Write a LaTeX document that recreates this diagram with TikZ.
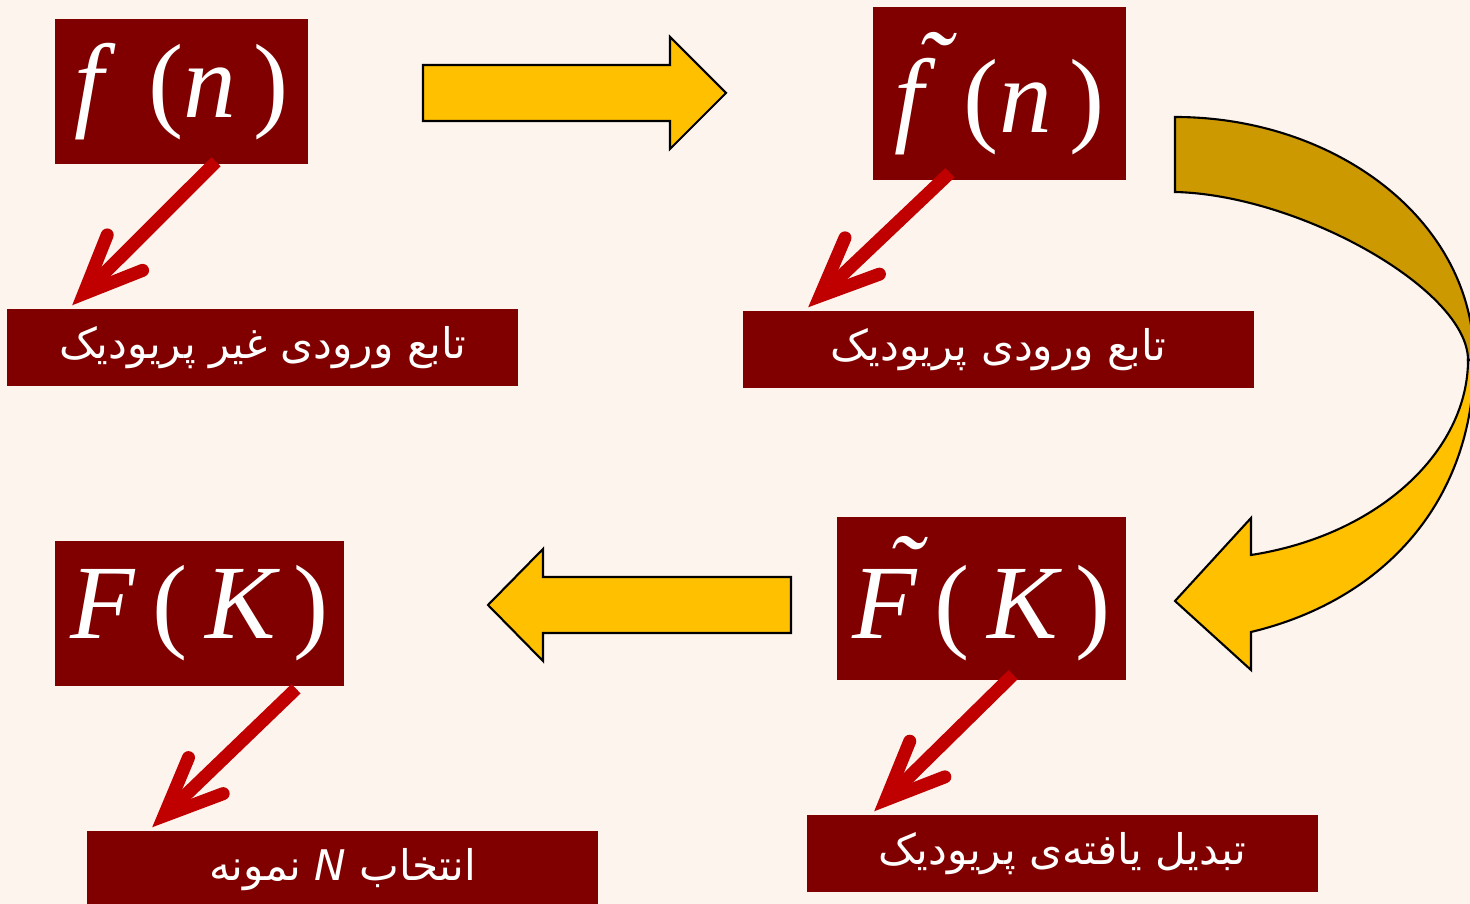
\documentclass[tikz,border=0pt]{standalone}
\usepackage{fontspec}
\usetikzlibrary{arrows.meta}
\newfontfamily\timesfont{Liberation Serif}
\newfontfamily\arabicfont[Script=Arabic]{DejaVu Sans}
\TeXXeTstate=1
\definecolor{paper}{RGB}{253,244,238}
\definecolor{boxred}{RGB}{128,0,0}
\definecolor{tipred}{RGB}{192,0,0}
\definecolor{gold}{RGB}{255,192,0}
\definecolor{darkgold}{RGB}{204,153,0}
% tilde placed over a letter
\newcommand{\wavy}[3]{\makebox[0pt][l]{\hspace{#1}\raisebox{#2}{\char"02DC}}#3}

\begin{document}
\begin{tikzpicture}[x=0.01cm, y=-0.01cm,
  mathbox/.style={fill=boxred, text=white, inner sep=0pt, font=\timesfont\fontsize{30}{34}\selectfont},
  labelbox/.style={fill=boxred, text=white, inner sep=0pt, minimum width=5.11cm, minimum height=0.77cm, font=\arabicfont\fontsize{12}{14}\selectfont},
  redarrow/.style={draw=tipred, line width=3.7pt,
    -{Straight Barb[length=0.58cm, width=0.5cm, line cap=round, line join=miter]}},
  blockarrow/.style={draw=black, line width=0.6pt, line join=miter}]

% Background
\fill[paper] (0,0) rectangle (1470,904);
\useasboundingbox (0,0) rectangle (1470,904);

% Function boxes
\node[mathbox, minimum width=2.53cm, minimum height=1.45cm] (fn) at (181.5,91.5)
  {\itshape f\hspace{0.42em}\upshape(\itshape n\,\upshape)};
\node[mathbox, minimum width=2.53cm, minimum height=1.73cm] (fpn) at (999.5,93.5)
  {\itshape\wavy{0.2em}{0.27em}{f}\hspace{0.38em}\upshape(\itshape n\,\upshape)};
\node[mathbox, minimum width=2.89cm, minimum height=1.63cm] (Fpk) at (981.5,598.5)
  {\itshape\wavy{0.32em}{0.3em}{F}\,\upshape(\,\itshape K\,\upshape)};
\node[mathbox, minimum width=2.89cm, minimum height=1.45cm] (Fk) at (199.5,613.5)
  {\itshape F\,\upshape(\,\itshape K\,\upshape)};

% Labels
\node[labelbox] (lfn) at (262.5,347.5) {\beginR تابع ورودی غیر پریودیک\endR};
\node[labelbox] (lfpn) at (998.5,349.5) {\beginR تابع ورودی پریودیک\endR};
\node[labelbox] (lFpk) at (1062.5,853.5) {\beginR تبدیل یافته‌ی پریودیک\endR};
\node[labelbox] (lFk) at (342.5,869.5) {\beginR انتخاب \beginL{\itshape N}\endL{} نمونه\endR};

% Red arrows
\draw[redarrow] ([xshift=0.345cm, yshift=0.03cm]fn.south) -- ([xshift=0.66cm, yshift=0.03cm]lfn.north west);
\draw[redarrow] ([xshift=-0.495cm, yshift=0.08cm]fpn.south) -- ([xshift=0.66cm, yshift=0.03cm]lfpn.north west);
\draw[redarrow] ([xshift=0.315cm, yshift=0.06cm]Fpk.south) -- ([xshift=0.68cm, yshift=0.03cm]lFpk.north west);
\draw[redarrow] ([xshift=0.965cm, yshift=-0.02cm]Fk.south) -- ([xshift=0.66cm, yshift=0.03cm]lFk.north west);

% Block arrows
\filldraw[blockarrow, fill=gold] (423,65) -- (670,65) -- (670,37) -- (726,93) -- (670,149) -- (670,121) -- (423,121) -- cycle;
\filldraw[blockarrow, fill=gold] (791,577) -- (543,577) -- (543,549) -- (488,605) -- (543,661) -- (543,633) -- (791,633) -- cycle;

% Curved arrow
\filldraw[blockarrow, fill=darkgold] (1175,117) .. controls (1335,117) and (1474,220) .. (1474,360)
  -- (1468,360) .. controls (1468,290) and (1300,195) .. (1175,192) -- cycle;
\filldraw[blockarrow, fill=gold] (1474,360) .. controls (1474,500) and (1385,600) .. (1251,632)
  -- (1251,670) -- (1175,601) -- (1251,518) -- (1251,555)
  .. controls (1380,535) and (1468,450) .. (1468,360) -- cycle;

\end{tikzpicture}
\end{document}
